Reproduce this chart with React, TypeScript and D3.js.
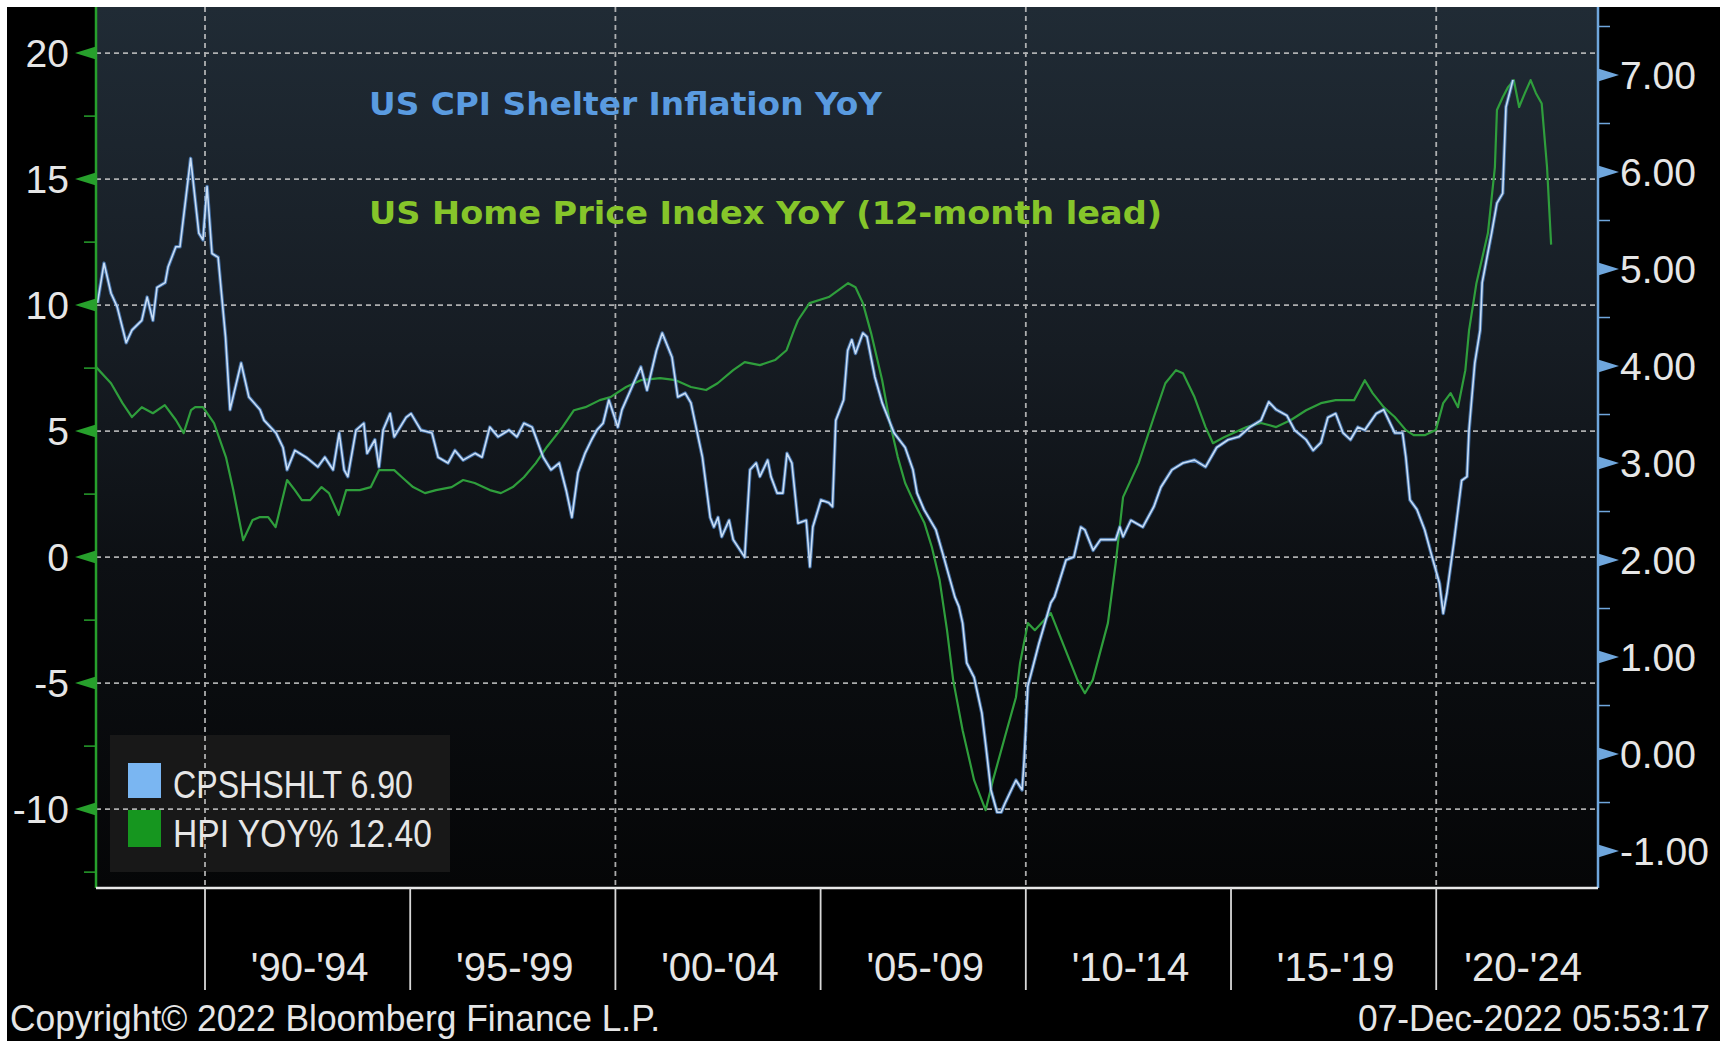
import React from 'react';
import * as d3 from 'd3';

// ---- Data (decimal year, value) ----
const cpiShelter: [number, number][] = [
  [1987.38,4.65],[1987.54,5.06],[1987.71,4.75],[1987.86,4.61],[1988.08,4.24],[1988.22,4.37],[1988.46,4.47],[1988.59,4.71],[1988.73,4.47],[1988.83,4.81],
  [1989.03,4.86],[1989.10,5.02],[1989.29,5.23],[1989.39,5.23],[1989.65,6.14],[1989.85,5.37],[1989.95,5.30],[1990.05,5.85],[1990.17,5.16],[1990.32,5.12],
  [1990.50,4.30],[1990.61,3.55],[1990.88,4.03],[1991.07,3.68],[1991.34,3.55],[1991.44,3.44],[1991.73,3.31],[1991.90,3.16],[1992.00,2.93],[1992.19,3.13],
  [1992.46,3.06],[1992.75,2.96],[1992.92,3.06],[1993.12,2.93],[1993.27,3.31],[1993.39,2.93],[1993.48,2.86],[1993.68,3.34],[1993.87,3.41],[1993.95,3.10],
  [1994.14,3.24],[1994.24,2.96],[1994.34,3.34],[1994.51,3.51],[1994.61,3.27],[1994.90,3.47],[1995.02,3.51],[1995.26,3.34],[1995.53,3.31],[1995.68,3.06],
  [1995.92,3.00],[1996.09,3.13],[1996.29,3.03],[1996.58,3.10],[1996.75,3.06],[1996.94,3.37],[1997.14,3.27],[1997.41,3.34],[1997.60,3.27],[1997.77,3.41],
  [1997.97,3.37],[1998.24,3.06],[1998.43,2.93],[1998.63,3.00],[1998.80,2.72],[1998.94,2.44],[1999.09,2.90],[1999.26,3.10],[1999.42,3.24],[1999.55,3.34],
  [1999.70,3.41],[1999.84,3.65],[2000.06,3.37],[2000.16,3.55],[2000.44,3.82],[2000.62,3.99],[2000.77,3.75],[2001.00,4.16],[2001.14,4.34],[2001.38,4.09],
  [2001.52,3.68],[2001.70,3.72],[2001.84,3.62],[2002.12,3.06],[2002.31,2.44],[2002.40,2.34],[2002.50,2.44],[2002.59,2.24],[2002.77,2.41],[2002.87,2.21],
  [2003.15,2.03],[2003.28,2.93],[2003.43,3.00],[2003.52,2.86],[2003.71,3.03],[2003.79,2.86],[2003.94,2.69],[2004.08,2.69],[2004.18,3.10],[2004.30,3.00],
  [2004.45,2.38],[2004.65,2.41],[2004.74,1.93],[2004.81,2.34],[2005.01,2.62],[2005.20,2.59],[2005.29,2.55],[2005.37,3.44],[2005.56,3.65],[2005.66,4.16],
  [2005.76,4.27],[2005.85,4.13],[2006.03,4.34],[2006.13,4.30],[2006.32,3.89],[2006.50,3.62],[2006.79,3.31],[2007.06,3.16],[2007.25,2.93],[2007.35,2.69],
  [2007.52,2.52],[2007.81,2.31],[2008.00,2.03],[2008.27,1.62],[2008.37,1.52],[2008.46,1.35],[2008.56,0.94],[2008.74,0.79],[2008.93,0.42],[2009.03,0.07],
  [2009.15,-0.37],[2009.30,-0.60],[2009.40,-0.60],[2009.49,-0.51],[2009.68,-0.34],[2009.76,-0.27],[2009.91,-0.37],[2009.96,-0.06],[2010.05,0.70],[2010.32,1.14],
  [2010.61,1.56],[2010.70,1.62],[2010.98,2.00],[2011.17,2.03],[2011.34,2.34],[2011.44,2.31],[2011.64,2.10],[2011.82,2.21],[2012.19,2.21],[2012.29,2.34],
  [2012.37,2.24],[2012.56,2.41],[2012.85,2.34],[2013.12,2.55],[2013.29,2.75],[2013.56,2.93],[2013.83,3.00],[2014.11,3.03],[2014.38,2.96],[2014.65,3.16],
  [2014.93,3.24],[2015.19,3.27],[2015.46,3.37],[2015.73,3.44],[2015.92,3.63],[2016.10,3.55],[2016.36,3.49],[2016.55,3.34],[2016.83,3.24],[2017.00,3.13],
  [2017.19,3.21],[2017.36,3.47],[2017.55,3.51],[2017.73,3.31],[2017.91,3.24],[2018.09,3.37],[2018.26,3.34],[2018.54,3.51],[2018.72,3.55],[2018.99,3.31],
  [2019.18,3.31],[2019.26,3.06],[2019.36,2.62],[2019.53,2.52],[2019.72,2.31],[2019.90,2.03],[2020.08,1.76],[2020.17,1.45],[2020.26,1.66],[2020.43,2.18],
  [2020.62,2.82],[2020.75,2.86],[2020.80,3.34],[2020.94,4.03],[2021.07,4.37],[2021.12,4.86],[2021.35,5.37],[2021.48,5.68],[2021.62,5.78],[2021.70,6.67],
  [2021.87,6.95],
];

const hpiYoY: [number, number][] = [
  [1987.34,7.55],[1987.71,6.90],[1987.99,6.11],[1988.22,5.56],[1988.46,5.95],[1988.73,5.71],[1989.02,6.03],[1989.29,5.44],[1989.48,4.92],[1989.66,5.83],
  [1989.76,5.95],[1989.95,5.95],[1990.22,5.32],[1990.51,3.97],[1990.69,2.66],[1990.93,0.67],[1991.16,1.47],[1991.34,1.59],[1991.54,1.59],[1991.72,1.19],
  [1992.00,3.06],[1992.19,2.66],[1992.36,2.26],[1992.56,2.26],[1992.84,2.78],[1993.02,2.54],[1993.26,1.67],[1993.44,2.66],[1993.77,2.66],[1994.04,2.78],
  [1994.24,3.45],[1994.61,3.45],[1994.80,3.17],[1995.07,2.78],[1995.36,2.54],[1995.63,2.66],[1996.01,2.78],[1996.29,3.06],[1996.57,2.94],[1996.94,2.66],
  [1997.21,2.54],[1997.50,2.78],[1997.77,3.17],[1998.06,3.73],[1998.33,4.37],[1998.71,5.16],[1998.99,5.83],[1999.27,5.95],[1999.62,6.23],[1999.88,6.35],
  [2000.26,6.75],[2000.62,7.02],[2001.09,7.10],[2001.47,7.02],[2001.84,6.75],[2002.21,6.63],[2002.49,6.90],[2002.87,7.42],[2003.15,7.74],[2003.52,7.62],
  [2003.89,7.82],[2004.17,8.21],[2004.35,9.00],[2004.45,9.40],[2004.73,10.08],[2005.20,10.32],[2005.67,10.87],[2005.85,10.71],[2006.03,10.08],[2006.23,8.89],
  [2006.50,7.02],[2006.69,5.32],[2006.88,3.97],[2007.06,2.94],[2007.25,2.26],[2007.53,1.35],[2007.71,0.40],[2007.90,-0.91],[2008.08,-2.90],[2008.23,-4.88],
  [2008.46,-6.87],[2008.74,-8.85],[2009.02,-10.04],[2009.20,-8.85],[2009.49,-7.14],[2009.76,-5.56],[2009.86,-4.20],[2010.05,-2.62],[2010.22,-2.90],[2010.61,-2.22],
  [2011.26,-4.88],[2011.44,-5.40],[2011.63,-4.88],[2012.00,-2.62],[2012.19,-0.24],[2012.37,2.38],[2012.75,3.73],[2013.12,5.56],[2013.40,6.90],[2013.66,7.42],
  [2013.83,7.30],[2014.11,6.35],[2014.38,5.16],[2014.56,4.52],[2014.83,4.76],[2015.38,5.16],[2015.73,5.32],[2016.10,5.16],[2016.46,5.44],[2016.83,5.83],
  [2017.19,6.11],[2017.55,6.23],[2018.00,6.23],[2018.26,7.02],[2018.45,6.51],[2018.72,5.95],[2018.99,5.56],[2019.26,5.04],[2019.45,4.84],[2019.72,4.84],
  [2019.99,5.04],[2020.17,6.11],[2020.35,6.51],[2020.53,5.95],[2020.71,7.42],[2020.80,9.00],[2020.98,10.87],[2021.26,12.86],[2021.43,15.48],[2021.48,17.74],
  [2021.62,18.25],[2021.75,18.65],[2021.89,18.93],[2022.02,17.86],[2022.16,18.41],[2022.30,18.93],[2022.43,18.41],[2022.57,18.00],[2022.70,15.48],[2022.80,12.40],
];

const leftTicks = [20, 15, 10, 5, 0, -5, -10];
const leftMinorTicks = [17.5, 12.5, 7.5, 2.5, -2.5, -7.5, -12.5];
const rightTicks = [7, 6, 5, 4, 3, 2, 1, 0, -1];
const rightMinorTicks = [7.5, 6.5, 5.5, 4.5, 3.5, 2.5, 1.5, 0.5, -0.5];
const periodStarts = [1990, 1995, 2000, 2005, 2010, 2015, 2020];
const periodLabels = ["'90-'94", "'95-'99", "'00-'04", "'05-'09", "'10-'14", "'15-'19", "'20-'24"];
const gridYears = [1990, 2000, 2010, 2020];
const titleCpi = 'US CPI Shelter Inflation YoY';
const titleHpi = 'US Home Price Index YoY (12-month lead)';
const legendNames = ['CPSHSHLT', 'HPI YOY%'];
const legendLast = ['6.90', '12.40'];
const copyright = 'Copyright\u00a9 2022 Bloomberg Finance L.P.';
const stamp = '07-Dec-2022 05:53:17';

const W = 1732;
const H = 1041;
const PL = 96, PR = 1598, PT = 7, PB = 888;

export default function App() {
  const x = d3.scaleLinear().domain([1987.344, 2023.942]).range([PL, PR]);
  const yL = d3.scaleLinear().domain([-13.13, 21.83]).range([PB, PT]);
  const yR = d3.scaleLinear().domain([-1.381, 7.701]).range([PB, PT]);

  const cpiLine = d3.line<[number, number]>().x(d => x(d[0])).y(d => yR(d[1]))(cpiShelter) || '';
  const hpiLine = d3.line<[number, number]>().x(d => x(d[0])).y(d => yL(d[1]))(hpiYoY) || '';

  const font = "'Liberation Sans', Arial, sans-serif";
  const boldFont = "'DejaVu Sans', Verdana, sans-serif";
  const txt = '#e6e6e6';

  return (
    <svg width={W} height={H} viewBox={`0 0 ${W} ${H}`}
      style={{ position: 'absolute', left: 0, top: 0, display: 'block', background: '#fff' }}>
      <defs>
        <linearGradient id="plotbg" x1="0" y1="0" x2="0" y2="1">
          <stop offset="0" stopColor="#202b35" />
          <stop offset="0.39" stopColor="#161c23" />
          <stop offset="0.63" stopColor="#0d1014" />
          <stop offset="1" stopColor="#050607" />
        </linearGradient>
        <clipPath id="plotclip">
          <rect x={PL} y={PT} width={PR - PL} height={PB - PT} />
        </clipPath>
      </defs>
      <rect x={0} y={0} width={W} height={H} fill="#ffffff" />
      <rect x={7} y={7} width={1713} height={H - 7} fill="#000000" />
      <rect x={PL} y={PT} width={PR - PL} height={PB - PT} fill="url(#plotbg)" />

      {/* legend box (under grid) */}
      <rect x={110} y={735} width={340} height={137} fill="#181818" />

      {/* grid */}
      <g stroke="#c8c8c8" strokeWidth={1.8} strokeDasharray="5,4" opacity={0.85}>
        {leftTicks.map(v => (
          <line key={'h' + v} x1={PL} x2={PR} y1={yL(v)} y2={yL(v)} />
        ))}
        {gridYears.map(yr => (
          <line key={'v' + yr} x1={x(yr)} x2={x(yr)} y1={PT} y2={PB} />
        ))}
      </g>

      {/* titles */}
      <text x={369} y={115} fontFamily={boldFont} fontWeight="bold" fontSize={32} fill="#5a9be0"
        textLength={513} lengthAdjust="spacingAndGlyphs">{titleCpi}</text>
      <text x={369} y={224} fontFamily={boldFont} fontWeight="bold" fontSize={32} fill="#86c52a"
        textLength={793} lengthAdjust="spacingAndGlyphs">{titleHpi}</text>

      {/* series */}
      <g clipPath="url(#plotclip)" fill="none" strokeLinejoin="round">
        <path d={hpiLine} stroke="#2f9e3c" strokeWidth={2.2} />
        <path d={cpiLine} stroke="#4f86c8" strokeWidth={3.6} opacity={0.75} />
        <path d={cpiLine} stroke="#c9def6" strokeWidth={1.6} />
      </g>

      {/* left axis */}
      <line x1={PL} x2={PL} y1={PT} y2={PB} stroke="#27a02c" strokeWidth={2.5} />
      {leftMinorTicks.map(v => (
        <line key={'lm' + v} x1={PL - 12} x2={PL} y1={yL(v)} y2={yL(v)} stroke="#27a02c" strokeWidth={1.5} />
      ))}
      {leftTicks.map(v => (
        <g key={'lt' + v}>
          <path d={`M${PL},${yL(v) - 6.5} L${PL - 21},${yL(v)} L${PL},${yL(v) + 6.5} Z`} fill="#27a02c" />
          <text x={69} y={yL(v) + 14} textAnchor="end" fontFamily={font} fontSize={39} fill={txt}>{String(v)}</text>
        </g>
      ))}

      {/* right axis */}
      <line x1={PR} x2={PR} y1={PT} y2={PB} stroke="#6fa6dc" strokeWidth={2.5} />
      {rightMinorTicks.map(v => (
        <line key={'rm' + v} x1={PR} x2={PR + 12} y1={yR(v)} y2={yR(v)} stroke="#6fa6dc" strokeWidth={1.5} />
      ))}
      {rightTicks.map(v => (
        <g key={'rt' + v}>
          <path d={`M${PR},${yR(v) - 6.5} L${PR + 21},${yR(v)} L${PR},${yR(v) + 6.5} Z`} fill="#6fa6dc" />
          <text x={1620} y={yR(v) + 14} textAnchor="start" fontFamily={font} fontSize={39} fill={txt}>{v.toFixed(2)}</text>
        </g>
      ))}

      {/* bottom axis */}
      <line x1={PL} x2={PR} y1={PB} y2={PB} stroke="#e8e8e8" strokeWidth={2.5} />
      {periodStarts.map((s, i) => {
        const end = Math.min(s + 5, x.domain()[1]);
        const cx = (x(s) + x(end)) / 2 + (i === periodStarts.length - 1 ? 6 : 2);
        return (
          <g key={'p' + s}>
            <line x1={x(s)} x2={x(s)} y1={PB} y2={990} stroke="#d8d8d8" strokeWidth={1.8} />
            <text x={cx} y={981} textAnchor="middle" fontFamily={font} fontSize={40} fill={txt}>{periodLabels[i]}</text>
          </g>
        );
      })}

      {/* legend */}
      <rect x={128} y={763} width={33} height={35} fill="#7ab6f2" />
      <rect x={128} y={810} width={33} height={37} fill="#16961f" />
      <text x={173} y={798} fontFamily={font} fontSize={39} fill={txt} textLength={240} lengthAdjust="spacingAndGlyphs">
        {legendNames[0] + ' ' + legendLast[0]}
      </text>
      <text x={173} y={847} fontFamily={font} fontSize={39} fill={txt} textLength={259} lengthAdjust="spacingAndGlyphs">
        {legendNames[1] + ' ' + legendLast[1]}
      </text>

      {/* footer */}
      <text x={10} y={1031} fontFamily={font} fontSize={37} fill={txt} textLength={650} lengthAdjust="spacingAndGlyphs">{copyright}</text>
      <text x={1710} y={1031} textAnchor="end" fontFamily={font} fontSize={37} fill={txt} textLength={352} lengthAdjust="spacingAndGlyphs">{stamp}</text>
    </svg>
  );
}
